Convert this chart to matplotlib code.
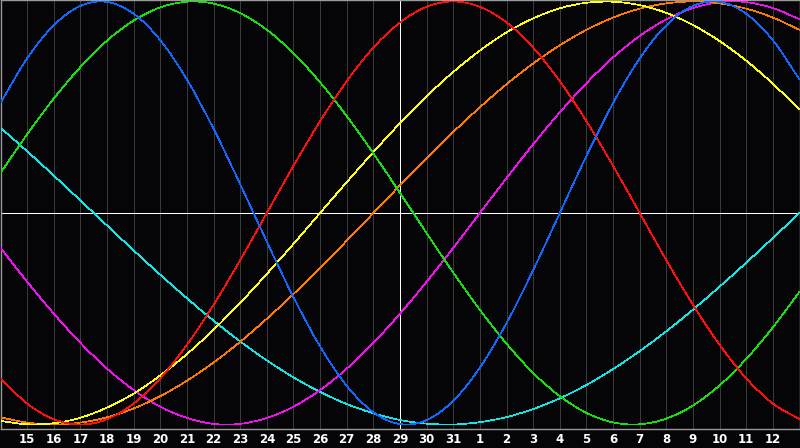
import numpy as np
import matplotlib
matplotlib.use("Agg")
import matplotlib.pyplot as plt
import matplotlib.transforms as mtransforms
from matplotlib.path import Path
from matplotlib.patches import PathPatch

# day labels under the grid lines (position 1..29), middle one is "today"
day_labels = [str(d) for d in range(15, 32)] + [str(d) for d in range(1, 13)]
today_index = 15

# cycle values, one per day position 0..30
physical_23 = [0.520, 0.731, 0.888, 0.979, 0.998, 0.942, 0.817, 0.631, 0.398, 0.136,
               -0.136, -0.398, -0.631, -0.817, -0.942, -0.998, -0.979, -0.888, -0.731, -0.520,
               -0.270, 0.000, 0.270, 0.520, 0.731, 0.888, 0.979, 0.998, 0.942, 0.817, 0.631]
emotional_28 = [-0.782, -0.901, -0.975, -1.000, -0.975, -0.901, -0.782, -0.623, -0.434, -0.223,
                0.000, 0.223, 0.434, 0.623, 0.782, 0.901, 0.975, 1.000, 0.975, 0.901,
                0.782, 0.623, 0.434, 0.223, 0.000, -0.223, -0.434, -0.623, -0.782, -0.901, -0.975]
intellectual_33 = [0.189, 0.372, 0.541, 0.690, 0.815, 0.910, 0.972, 0.999, 0.990, 0.945,
                   0.866, 0.756, 0.618, 0.458, 0.282, 0.095, -0.095, -0.282, -0.458, -0.618,
                   -0.756, -0.866, -0.945, -0.990, -0.999, -0.972, -0.910, -0.815, -0.690, -0.541, -0.372]
intuitive_38 = [-0.165, -0.325, -0.476, -0.614, -0.736, -0.837, -0.916, -0.969, -0.997, -0.997,
                -0.969, -0.916, -0.837, -0.736, -0.614, -0.476, -0.325, -0.165, 0.000, 0.165,
                0.325, 0.476, 0.614, 0.736, 0.837, 0.916, 0.969, 0.997, 0.997, 0.969, 0.916]
aesthetic_43 = [-0.983, -0.999, -0.994, -0.968, -0.920, -0.854, -0.768, -0.667, -0.552, -0.425,
                -0.288, -0.146, 0.000, 0.146, 0.288, 0.425, 0.552, 0.667, 0.768, 0.854,
                0.920, 0.968, 0.994, 0.999, 0.983, 0.946, 0.889, 0.813, 0.720, 0.611, 0.489]
awareness_48 = [-0.966, -0.991, -1.000, -0.991, -0.966, -0.924, -0.866, -0.793, -0.707, -0.609,
                -0.500, -0.383, -0.259, -0.131, 0.000, 0.131, 0.259, 0.383, 0.500, 0.609,
                0.707, 0.793, 0.866, 0.924, 0.966, 0.991, 1.000, 0.991, 0.966, 0.924, 0.866]
spiritual_53 = [0.403, 0.292, 0.177, 0.059, -0.059, -0.177, -0.292, -0.403, -0.509, -0.607,
                -0.697, -0.777, -0.846, -0.903, -0.947, -0.979, -0.996, -1.000, -0.989, -0.965,
                -0.927, -0.876, -0.813, -0.738, -0.653, -0.559, -0.457, -0.348, -0.235, -0.118, 0.000]

series = [
    (spiritual_53, '#10e8e8'),
    (intuitive_38, '#f010f0'),
    (awareness_48, '#ff7a00'),
    (aesthetic_43, '#ffff10'),
    (intellectual_33, '#18e010'),
    (emotional_28, '#ff1010'),
    (physical_23, '#1068ff'),
]


def smooth_path(xs, ys):
    # catmull-rom style bezier through the daily points
    pts = np.column_stack([xs, ys]).astype(float)
    ext = np.vstack([2 * pts[0] - pts[1], pts, 2 * pts[-1] - pts[-2]])
    verts = [pts[0]]
    codes = [Path.MOVETO]
    for i in range(len(pts) - 1):
        p0, p1, p2, p3 = ext[i], ext[i + 1], ext[i + 2], ext[i + 3]
        verts += [p1 + (p2 - p0) / 6, p2 - (p3 - p1) / 6, p2]
        codes += [Path.CURVE4] * 3
    return Path(verts, codes)


bg = '#050508'
W, H = 800, 448
fig = plt.figure(figsize=(W / 100, H / 100), dpi=100, facecolor=bg)
ax = fig.add_axes([0.5 / W, 19.5 / H, 799 / W, 428 / H], facecolor=bg)

px = 2 / 423
ax.set_xlim(0, 30)
ax.set_ylim(-1 - 4 * px, 1 + 1 * px)

lw = 0.5
# day grid
for i in range(1, 30):
    if i == today_index:
        continue
    ax.axvline(i, color='#3a3a3a', lw=lw, antialiased=False, zorder=1)

ax.axhline(0, color='white', lw=lw, antialiased=False, zorder=2)
ax.axvline(today_index, color='white', lw=lw, antialiased=False, zorder=2)

days = np.arange(len(physical_23))
for vals, col in series:
    ax.add_patch(PathPatch(smooth_path(days, vals), facecolor='none', edgecolor=col,
                           lw=lw, antialiased=False, zorder=3))

for s in ax.spines.values():
    s.set_color('#9a9a9a')
    s.set_linewidth(1.0)
ax.set_xticks([])
ax.set_yticks([])

trans = mtransforms.blended_transform_factory(ax.transData, ax.transAxes)
for i, lab in enumerate(day_labels, start=1):
    ax.text(i, -11 / 428, lab, transform=trans, ha='center', va='center',
            color='white', fontsize=8.5, fontweight='bold', family='DejaVu Sans',
            clip_on=False)

fig.savefig('out.png', dpi=100, facecolor=bg)
